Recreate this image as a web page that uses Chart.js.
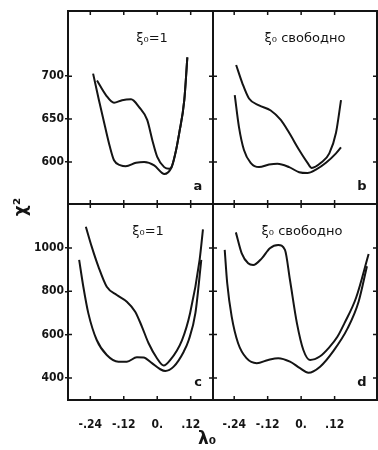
<!DOCTYPE html>
<html>
<head>
<meta charset="utf-8">
<script src="https://cdn.jsdelivr.net/npm/chart.js@4.4.1/dist/chart.umd.min.js"></script>
<style>
  html, body { margin: 0; padding: 0; background: #fff; }
  #wrap { position: relative; width: 378px; height: 450px; }
  #wrap canvas { position: absolute; left: 0; top: 0; }
</style>
</head>
<body>
<div id="wrap">
  <canvas id="panelA" width="378" height="450"></canvas>
  <canvas id="panelB" width="378" height="450"></canvas>
  <canvas id="panelC" width="378" height="450"></canvas>
  <canvas id="panelD" width="378" height="450"></canvas>
</div>
<script>
// axis ticks
const xTicks = [-0.24, -0.12, 0, 0.12];
const xTickLabels = ["-.24", "-.12", "0.", ".12"];
const yTicksTop = [600, 650, 700];
const yTicksBottom = [400, 600, 800, 1000];

// panel a  (xi_0 = 1)
const aLam1 = [-0.23, -0.209, -0.187, -0.17, -0.155, -0.131, -0.113, -0.076, -0.047, -0.011, 0.018, 0.025, 0.05, 0.065, 0.079, 0.097, 0.108];
const aChi1 = [703, 672, 641, 618, 602, 596, 595, 599, 600, 596, 587, 586, 593, 610, 634, 672, 722];
const aLam2 = [-0.216, -0.184, -0.155, -0.126, -0.094, -0.065, -0.036, -0.018, 0, 0.025, 0.043, 0.05, 0.065, 0.079, 0.097, 0.108];
const aChi2 = [695, 678, 669, 672, 673, 664, 649, 626, 606, 594, 592, 593, 610, 634, 672, 722];

// panel b  (xi_0 free)
const bLam1 = [-0.233, -0.211, -0.187, -0.151, -0.109, -0.073, -0.043, -0.007, 0.023, 0.038, 0.071, 0.101, 0.125, 0.143];
const bChi1 = [713, 692, 674, 666, 660, 649, 634, 614, 599, 593, 599, 610, 634, 672];
const bLam2 = [-0.238, -0.223, -0.205, -0.181, -0.151, -0.115, -0.085, -0.043, -0.007, 0.023, 0.053, 0.089, 0.125, 0.143];
const bChi2 = [678, 641, 614, 599, 594, 597, 598, 594, 588, 587, 591, 599, 610, 617];

// panel c  (xi_0 = 1)
const cLam1 = [-0.256, -0.235, -0.211, -0.181, -0.145, -0.109, -0.079, -0.055, -0.031, -0.001, 0.023, 0.047, 0.089, 0.118, 0.152, 0.164];
const cChi1 = [1098, 1006, 914, 821, 783, 752, 706, 637, 560, 491, 457, 483, 575, 700, 945, 1086];
const cLam2 = [-0.28, -0.265, -0.247, -0.217, -0.181, -0.139, -0.109, -0.073, -0.049, -0.019, 0.011, 0.029, 0.059, 0.095, 0.113, 0.137, 0.158];
const cChi2 = [945, 821, 698, 575, 506, 475, 475, 495, 494, 468, 440, 432, 452, 521, 575, 700, 945];

// panel d  (xi_0 free)
const dLam1 = [-0.234, -0.213, -0.19, -0.172, -0.141, -0.112, -0.082, -0.058, -0.04, -0.015, 0.008, 0.032, 0.068, 0.1, 0.13, 0.155, 0.197, 0.242];
const dChi1 = [1072, 975, 929, 921, 952, 999, 1014, 991, 852, 652, 529, 483, 500, 540, 590, 652, 770, 972];
const dLam2 = [-0.274, -0.265, -0.249, -0.226, -0.196, -0.159, -0.118, -0.082, -0.04, -0.004, 0.026, 0.068, 0.116, 0.167, 0.206, 0.236];
const dChi2 = [991, 837, 683, 560, 491, 468, 483, 491, 475, 445, 424, 452, 525, 630, 752, 916];

const ink = "#141414";
const tickFont = { family: "'DejaVu Sans Condensed', 'DejaVu Sans', sans-serif", size: 12, weight: "bold" };

// frame, inward tick marks and panel texts
const framePlugin = {
  id: "frame",
  afterDraw(chart, args, opts) {
    const { ctx, chartArea: a, scales: { x, y } } = chart;
    ctx.save();
    ctx.strokeStyle = ink;
    ctx.lineWidth = 2;
    ctx.strokeRect(a.left, a.top, a.right - a.left, a.bottom - a.top);
    ctx.lineWidth = 1.5;
    ctx.beginPath();
    xTicks.forEach(v => {
      const px = x.getPixelForValue(v);
      ctx.moveTo(px, a.top); ctx.lineTo(px, a.top + 4);
      ctx.moveTo(px, a.bottom); ctx.lineTo(px, a.bottom - 4);
    });
    opts.yTicks.forEach(v => {
      const py = y.getPixelForValue(v);
      ctx.moveTo(a.left, py); ctx.lineTo(a.left + 4, py);
      ctx.moveTo(a.right, py); ctx.lineTo(a.right - 4, py);
    });
    ctx.stroke();

    ctx.fillStyle = ink;
    ctx.textAlign = "center";
    ctx.textBaseline = "middle";
    ctx.font = "13px 'DejaVu Sans', sans-serif";
    ctx.fillText(opts.title, opts.titleX, a.top + 28);
    ctx.font = "bold 13px 'DejaVu Sans', sans-serif";
    ctx.fillText(opts.tag, a.right - 15, a.bottom - 17);

    if (opts.axisTitles) {
      ctx.font = "bold 17px 'DejaVu Sans', sans-serif";
      ctx.fillText("λ\u2080", 207, 440);
      ctx.save();
      ctx.translate(22, 207);
      ctx.rotate(-Math.PI / 2);
      ctx.fillText("χ²", 0, 0);
      ctx.restore();
    }
    ctx.restore();
  }
};

function makePanel(id, p) {
  const pts = (xs, ys) => xs.map((v, i) => ({ x: v, y: ys[i] }));
  return new Chart(document.getElementById(id), {
    type: "line",
    data: {
      datasets: p.curves.map(c => ({
        data: pts(c[0], c[1]),
        borderColor: ink,
        borderWidth: 2,
        pointRadius: 0,
        fill: false,
        cubicInterpolationMode: "monotone"
      }))
    },
    options: {
      responsive: false,
      animation: false,
      devicePixelRatio: 1,
      layout: { padding: p.pad },
      plugins: {
        legend: { display: false },
        tooltip: { enabled: false },
        frame: { yTicks: p.yTicks, title: p.title, titleX: p.titleX, tag: p.tag, axisTitles: p.axisTitles }
      },
      scales: {
        x: {
          type: "linear",
          min: p.xMin,
          max: p.xMax,
          display: p.showX,
          afterBuildTicks: s => { s.ticks = xTicks.map(v => ({ value: v })); },
          afterFit: s => { s.height = p.showX ? 30 : 0; },
          grid: { display: false },
          border: { display: false },
          ticks: { padding: 10, autoSkip: false, maxRotation: 0, color: ink, font: tickFont,
                   callback: (v, i) => xTickLabels[i] }
        },
        y: {
          type: "linear",
          min: p.yMin,
          max: p.yMax,
          display: p.showY,
          afterBuildTicks: s => { s.ticks = p.yTicks.map(v => ({ value: v })); },
          afterFit: s => { s.width = p.showY ? 68 : 0; },
          grid: { drawOnChartArea: false, drawTicks: true, tickLength: 3, color: ink, lineWidth: 1.5 },
          border: { display: false },
          ticks: { padding: 1, color: ink, font: tickFont, callback: v => String(v) }
        }
      }
    },
    plugins: [framePlugin]
  });
}

makePanel("panelA", {
  curves: [[aLam1, aChi1], [aLam2, aChi2]],
  xMin: -0.32, xMax: 0.2, yMin: 551, yMax: 776, yTicks: yTicksTop,
  showX: false, showY: true, pad: { left: 0, top: 11, right: 165, bottom: 246 },
  title: "ξ\u2080=1", titleX: 152, tag: "a"
});
makePanel("panelB", {
  curves: [[bLam1, bChi1], [bLam2, bChi2]],
  xMin: -0.316, xMax: 0.272, yMin: 551, yMax: 776, yTicks: yTicksTop,
  showX: false, showY: false, pad: { left: 213, top: 11, right: 1, bottom: 246 },
  title: "ξ\u2080 свободно", titleX: 305, tag: "b"
});
makePanel("panelC", {
  curves: [[cLam1, cChi1], [cLam2, cChi2]],
  xMin: -0.32, xMax: 0.2, yMin: 298, yMax: 1203, yTicks: yTicksBottom,
  showX: true, showY: true, pad: { left: 0, top: 204, right: 165, bottom: 20 },
  title: "ξ\u2080=1", titleX: 148, tag: "c", axisTitles: true
});
makePanel("panelD", {
  curves: [[dLam1, dChi1], [dLam2, dChi2]],
  xMin: -0.316, xMax: 0.272, yMin: 298, yMax: 1203, yTicks: yTicksBottom,
  showX: true, showY: false, pad: { left: 213, top: 204, right: 1, bottom: 20 },
  title: "ξ\u2080 свободно", titleX: 302, tag: "d"
});
</script>
</body>
</html>
